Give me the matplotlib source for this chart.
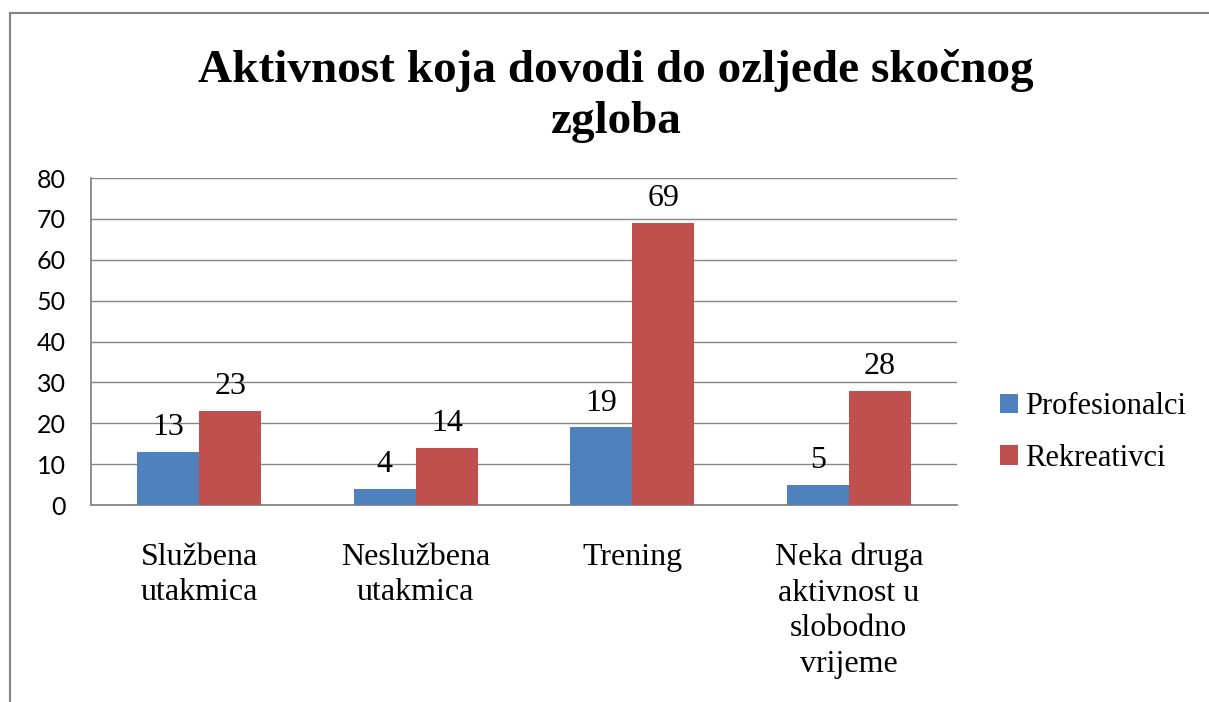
import numpy as np
import matplotlib.pyplot as plt
from matplotlib.lines import Line2D

categories = ["Službena\nutakmica", "Neslužbena\nutakmica", "Trening",
              "Neka druga\naktivnost u\nslobodno\nvrijeme"]
profesionalci = [13, 4, 19, 5]
rekreativci = [23, 14, 69, 28]
series_names = ["Profesionalci", "Rekreativci"]
y_ticks = [0, 10, 20, 30, 40, 50, 60, 70, 80]

blue = "#4F81BD"
red = "#C0504D"
grid_gray = "#868686"
serif = "Liberation Serif"
sans = "Lato"


def make_plot():
    fig = plt.figure(figsize=(12.09, 7.02), dpi=100)
    ax = fig.add_axes([0.0753, 0.2806, 0.7163, 0.4658])

    x = np.arange(len(categories))
    w = 0.286
    b1 = ax.bar(x - w / 2, profesionalci, w, color=blue, label=series_names[0], zorder=3)
    b2 = ax.bar(x + w / 2, rekreativci, w, color=red, label=series_names[1], zorder=3)

    for bars, vals in ((b1, profesionalci), (b2, rekreativci)):
        for rect, v in zip(bars, vals):
            ax.annotate(str(v), (rect.get_x() + rect.get_width() / 2, v),
                        xytext=(0, 7), textcoords="offset points",
                        ha="center", va="bottom", fontsize=23, family=serif)

    ax.set_xlim(-0.5, len(categories) - 0.5)
    ax.set_ylim(0, 80)
    ax.set_yticks(y_ticks)
    ax.set_xticks(x)
    ax.set_xticklabels(categories, fontsize=23, family=serif, linespacing=1.3, va="top")
    for lab in ax.get_yticklabels():
        lab.set_fontsize(18)
        lab.set_family(sans)
    ax.tick_params(axis="both", length=0)
    ax.tick_params(axis="x", pad=27)
    ax.tick_params(axis="y", pad=18)

    ax.grid(axis="y", color=grid_gray, linewidth=1.0, zorder=0)
    for side in ("top", "right"):
        ax.spines[side].set_visible(False)
    for side in ("left", "bottom"):
        ax.spines[side].set_color(grid_gray)
        ax.spines[side].set_linewidth(1.3)

    fig.text(0.509, 0.863, "Aktivnost koja dovodi do ozljede skočnog\nzgloba",
             ha="center", va="center", fontsize=34, fontweight="bold",
             family=serif, linespacing=1.3)

    fig.legend(handles=[b1, b2], loc="center left",
               bbox_to_anchor=(0.804, 0.384), frameon=False,
               prop={"family": serif, "size": 22},
               handlelength=0.6, handleheight=0.6, handletextpad=0.25,
               labelspacing=0.75)

    # outer chart border (only top and left visible in the picture)
    fig.add_artist(Line2D([10 / 1209, 1.0], [1 - 13 / 702, 1 - 13 / 702],
                          transform=fig.transFigure, color=grid_gray, linewidth=1.5))
    fig.add_artist(Line2D([10 / 1209, 10 / 1209], [0.0, 1 - 13 / 702],
                          transform=fig.transFigure, color=grid_gray, linewidth=1.5))

    fig.savefig("out.png", dpi=100)
    plt.close(fig)


def main():
    make_plot()


if __name__ == "__main__":
    main()
